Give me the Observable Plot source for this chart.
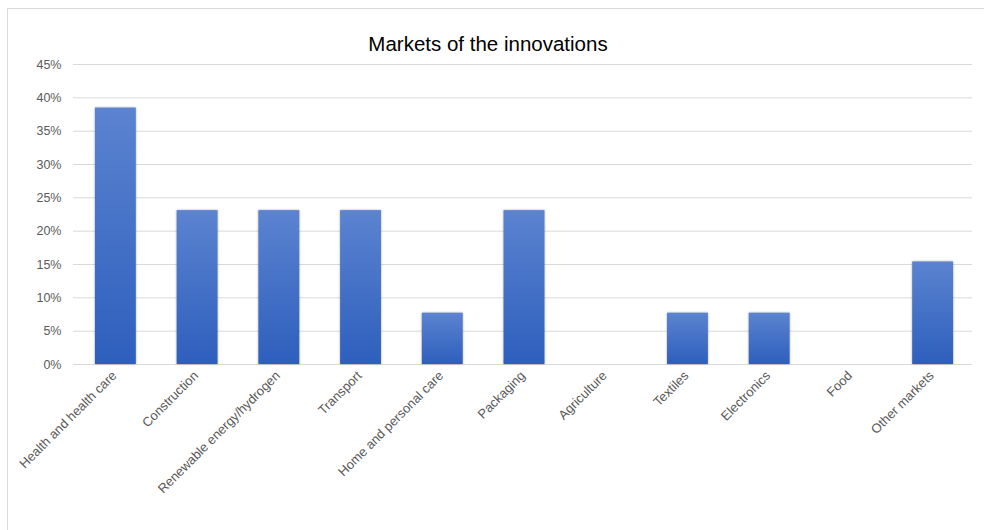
<!DOCTYPE html>
<html>
<head>
<meta charset="utf-8">
<script src="https://cdn.jsdelivr.net/npm/d3@7"></script>
<script src="https://cdn.jsdelivr.net/npm/@observablehq/plot@0.6"></script>
<style>
  html, body { margin: 0; padding: 0; background: #fff; }
  #wrap { position: relative; width: 984px; height: 530px; overflow: hidden; }
  #frame { position: absolute; left: 7px; top: 8px; width: 990px; height: 540px;
           border-top: 1px solid #d9d9d9; border-left: 1px solid #d9d9d9; pointer-events: none; }
  svg { display: block; }
</style>
</head>
<body>
<div id="wrap"><div id="frame"></div></div>
<script>
const title = "Markets of the innovations";
const categories = ["Health and health care", "Construction", "Renewable energy/hydrogen", "Transport",
  "Home and personal care", "Packaging", "Agriculture", "Textiles", "Electronics", "Food", "Other markets"];
const values = [38.46, 23.08, 23.08, 23.08, 7.69, 23.08, 0, 7.69, 7.69, 0, 15.38];
const yTicks = [0, 5, 10, 15, 20, 25, 30, 35, 40, 45];

const data = categories.map((c, i) => ({category: c, value: values[i]}));

const gradientDefs = () => {
  const ns = "http://www.w3.org/2000/svg";
  const defs = document.createElementNS(ns, "defs");
  const lg = document.createElementNS(ns, "linearGradient");
  lg.setAttribute("id", "barGrad");
  lg.setAttribute("x1", "0"); lg.setAttribute("y1", "0");
  lg.setAttribute("x2", "0"); lg.setAttribute("y2", "1");
  [["0%", "#5b83d0"], ["100%", "#2e5fbd"]].forEach(([o, c]) => {
    const s = document.createElementNS(ns, "stop");
    s.setAttribute("offset", o); s.setAttribute("stop-color", c);
    lg.appendChild(s);
  });
  defs.appendChild(lg);
  return defs;
};

const chart = Plot.plot({
  width: 984,
  height: 530,
  marginTop: 64,
  marginLeft: 73,
  marginRight: 12,
  marginBottom: 166,
  style: {fontFamily: "'Liberation Sans', Arial, sans-serif", fontSize: "12px", color: "#595959", background: "transparent"},
  x: {domain: categories, paddingInner: 0.5, paddingOuter: 0.25, round: false, label: null},
  y: {domain: [0, 45], label: null},
  marks: [
    gradientDefs,
    Plot.ruleY(yTicks, {stroke: "#d9d9d9", strokeWidth: 1}),
    Plot.barY(data, {x: "category", y: "value", fill: "url(#barGrad)", dx: 1.5}),
    Plot.axisY({ticks: yTicks, tickSize: 0, tickPadding: 12, tickFormat: d => d + "%", fontSize: 12.5, label: null}),
    Plot.axisX({tickSize: 0, tickRotate: -45, tickPadding: 9, fontSize: 13, label: null}),
    Plot.text([title], {frameAnchor: "top", dy: -20, dx: -35, lineAnchor: "middle", fontSize: 20.5, fill: "#000"})
  ]
});
chart.querySelectorAll("[aria-label='bar'] rect").forEach(r => r.style.filter = "drop-shadow(0px 0px 1px rgba(0,0,0,0.35))");
document.getElementById("wrap").prepend(chart);
</script>
</body>
</html>
